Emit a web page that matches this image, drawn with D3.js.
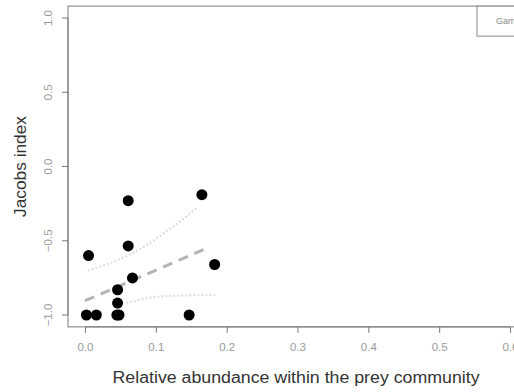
<!DOCTYPE html>
<html>
<head>
<meta charset="utf-8">
<script src="https://cdn.jsdelivr.net/npm/d3@7"></script>
<style>
  body { margin: 0; background: #fff; }
  svg { display: block; font-family: "Liberation Sans", Arial, sans-serif; }
</style>
</head>
<body>
<script>
// points (relative abundance, Jacobs index)
var abundance = [0.002, 0.016, 0.045, 0.048, 0.046, 0.046, 0.067, 0.061, 0.061, 0.005, 0.165, 0.183, 0.147];
var jacobs = [-1.0, -1.0, -1.0, -1.0, -0.92, -0.83, -0.75, -0.535, -0.23, -0.60, -0.19, -0.66, -1.0];

// fitted line and confidence band
var fitX = [0.0, 0.172];
var fitY = [-0.904, -0.55];
var upperX = [0.004, 0.03, 0.06, 0.09, 0.12, 0.158];
var upperY = [-0.70, -0.66, -0.60, -0.52, -0.42, -0.28];
var lowerX = [0.058, 0.09, 0.13, 0.187];
var lowerY = [-0.92, -0.885, -0.87, -0.865];

var xTicks = [0, 0.1, 0.2, 0.3, 0.4, 0.5, 0.6];
var yTicks = [-1, -0.5, 0, 0.5, 1];
var legendLabels = ["Gammaridae"];

var svg_width = 514;
var svg_height = 392;

var svg = d3.select("body")
  .append("svg")
  .attr("width", svg_width)
  .attr("height", svg_height);

var x = d3.scaleLinear().domain([0, 0.6]).range([85, 510]);
var y = d3.scaleLinear().domain([-1, 1]).range([315, 18]);

// plot region (R adds 4% each side)
var box = { left: x(-0.024), right: x(0.624), top: y(1.08), bottom: y(-1.08) };

svg.append("clipPath").attr("id", "plotclip")
  .append("rect")
  .attr("x", box.left).attr("y", box.top)
  .attr("width", box.right - box.left).attr("height", box.bottom - box.top);

svg.append("rect")
  .attr("x", box.left).attr("y", box.top)
  .attr("width", box.right - box.left).attr("height", box.bottom - box.top)
  .attr("fill", "none")
  .attr("stroke", "#7a7a7a");

// axes
var bottomAxis = d3.axisBottom(x).tickValues(xTicks).tickSize(6).tickPadding(10)
  .tickFormat(d3.format(".1f"));
var leftAxis = d3.axisLeft(y).tickValues(yTicks).tickSize(6)
  .tickFormat(d3.format(".1f"));

var xg = svg.append("g")
  .attr("transform", `translate(0, ${box.bottom})`)
  .call(bottomAxis);
xg.select(".domain").attr("d", `M${x(0)},0H${x(0.6)}`);

var yg = svg.append("g")
  .attr("transform", `translate(${box.left}, 0)`)
  .call(leftAxis);
yg.select(".domain").attr("d", `M0,${y(-1)}V${y(1)}`);

[xg, yg].forEach(function(g) {
  g.select(".domain").attr("stroke", "#7a7a7a");
  g.selectAll(".tick line").attr("stroke", "#7a7a7a");
  g.selectAll(".tick text")
    .attr("fill", "#9a9a9a")
    .style("font-size", "11.5px");
});

// R style: y tick labels run along the axis
yg.selectAll(".tick").attr("transform", null);
yg.selectAll(".tick line").attr("transform", function(d) { return `translate(0, ${y(d)})`; });
yg.selectAll(".tick text")
  .attr("text-anchor", "middle")
  .attr("x", 0)
  .attr("y", 0)
  .attr("dy", "0.35em")
  .attr("transform", function(d) { return `translate(-20, ${y(d)}) rotate(-90)`; });

// axis titles
svg.append("text")
  .attr("x", 296)
  .attr("y", 383)
  .attr("text-anchor", "middle")
  .attr("fill", "#333")
  .attr("textLength", 367)
  .attr("lengthAdjust", "spacingAndGlyphs")
  .style("font-size", "16px")
  .text("Relative abundance within the prey community");

svg.append("text")
  .attr("transform", `translate(20, ${(box.top + box.bottom) / 2}) rotate(-90)`)
  .attr("text-anchor", "middle")
  .attr("dy", "0.35em")
  .attr("fill", "#333")
  .attr("textLength", 101)
  .attr("lengthAdjust", "spacingAndGlyphs")
  .style("font-size", "16px")
  .text("Jacobs index");

var plot = svg.append("g").attr("clip-path", "url(#plotclip)");

var line = d3.line()
  .x(d => x(d[0]))
  .y(d => y(d[1]))
  .curve(d3.curveMonotoneX);

plot.append("path")
  .datum(d3.zip(upperX, upperY))
  .attr("d", line)
  .attr("fill", "none")
  .attr("stroke", "#dcdcdc")
  .attr("stroke-width", 2)
  .attr("stroke-dasharray", "2,2");

plot.append("path")
  .datum(d3.zip(lowerX, lowerY))
  .attr("d", line)
  .attr("fill", "none")
  .attr("stroke", "#dcdcdc")
  .attr("stroke-width", 2)
  .attr("stroke-dasharray", "2,2");

plot.append("path")
  .datum(d3.zip(fitX, fitY))
  .attr("d", line)
  .attr("fill", "none")
  .attr("stroke", "#b4b4b4")
  .attr("stroke-width", 3)
  .attr("stroke-dasharray", "10,7");

plot.selectAll("circle")
  .data(d3.zip(abundance, jacobs))
  .enter()
  .append("circle")
  .attr("cx", d => x(d[0]))
  .attr("cy", d => y(d[1]))
  .attr("r", 5.5)
  .attr("fill", "#000");

// legend, cut off by the right edge
var legend = svg.append("g").attr("transform", `translate(477, ${box.top})`);
legend.append("rect")
  .attr("width", 60)
  .attr("height", 30)
  .attr("fill", "#fff")
  .attr("stroke", "#8a8a8a");
legend.selectAll("text")
  .data(legendLabels)
  .enter()
  .append("text")
  .attr("x", 19)
  .attr("y", 15)
  .attr("dy", "0.35em")
  .attr("fill", "#8a8a8a")
  .style("font-size", "9px")
  .text(d => d);
</script>
</body>
</html>
